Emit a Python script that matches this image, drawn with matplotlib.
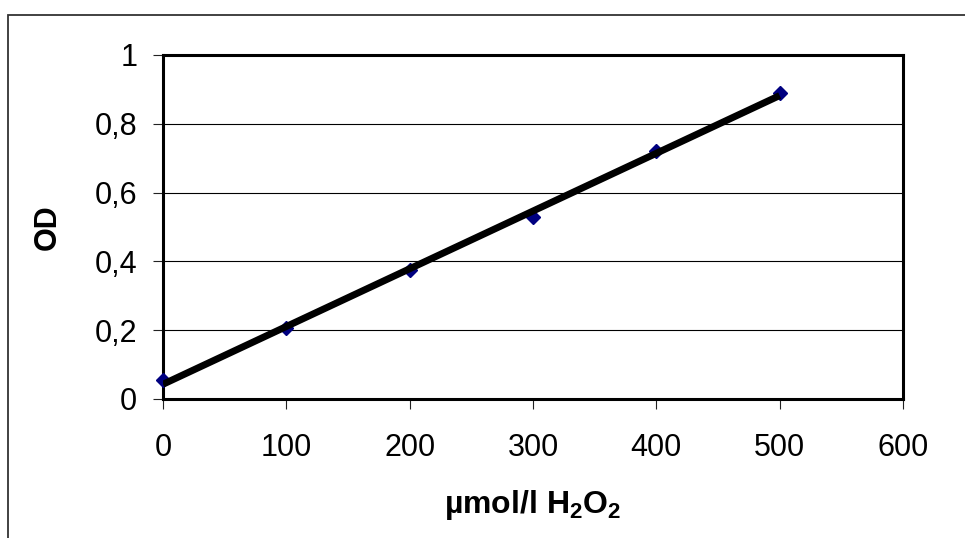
import numpy as np
import matplotlib
matplotlib.use("Agg")
import matplotlib.pyplot as plt
from matplotlib.patches import Rectangle

# data
conc = [0, 100, 200, 300, 400, 500]
od = [0.055, 0.205, 0.375, 0.53, 0.72, 0.89]
x_ticks = [0, 100, 200, 300, 400, 500, 600]
y_ticks = [0, 0.2, 0.4, 0.6, 0.8, 1]

plt.rcParams["font.family"] = ["Liberation Sans", "DejaVu Sans"]
plt.rcParams["mathtext.fontset"] = "custom"
plt.rcParams["mathtext.rm"] = "Liberation Sans"
plt.rcParams["mathtext.bf"] = "Liberation Sans:bold"

fig = plt.figure(figsize=(9.65, 5.38), dpi=100)
W, H = 965, 538

# outer chart border (Excel style)
fig.patches.append(Rectangle((8 / W, -0.05), 1.0, 1 - 15 / H + 0.05,
                             transform=fig.transFigure, fill=False,
                             edgecolor="#333333", linewidth=1.3))

ax = fig.add_axes([163 / W, 1 - 399 / H, 740 / W, 344 / H])

# linear trend line (least squares)
k, b = np.polyfit(conc, od, 1)
xs = np.array([conc[0], conc[-1]])
ax.plot(conc, od, linestyle="none", marker="D", markersize=7,
        color="#000080", zorder=3, clip_on=False)
ax.plot(xs, k * xs + b, color="black", linewidth=5,
        solid_capstyle="butt", zorder=4)

ax.set_xlim(0, 600)
ax.set_ylim(0, 1)
ax.set_xticks(x_ticks)
ax.set_yticks(y_ticks)
ax.set_yticklabels([f"{v:g}".replace(".", ",") for v in y_ticks])
ax.tick_params(direction="out", length=7.5, width=0.8, colors="#222222",
               labelsize=22, labelcolor="black")
ax.tick_params(axis="x", pad=17)
ax.tick_params(axis="y", pad=11)

ax.yaxis.grid(True, color="black", linewidth=0.8)
ax.set_axisbelow(True)
for sp in ax.spines.values():
    sp.set_linewidth(2.2)
    sp.set_color("black")

ax.set_xlabel("µmol/l H$_{\\mathbf{2}}$O$_{\\mathbf{2}}$", fontsize=23,
              fontweight="bold", va="baseline")
ax.xaxis.set_label_coords(0.5, (399 - 513) / 344)
ax.set_ylabel("OD", fontsize=22, fontweight="bold", va="center")
ax.yaxis.set_label_coords((48 - 163) / 740, 0.5)

fig.savefig("out.png", dpi=100)
